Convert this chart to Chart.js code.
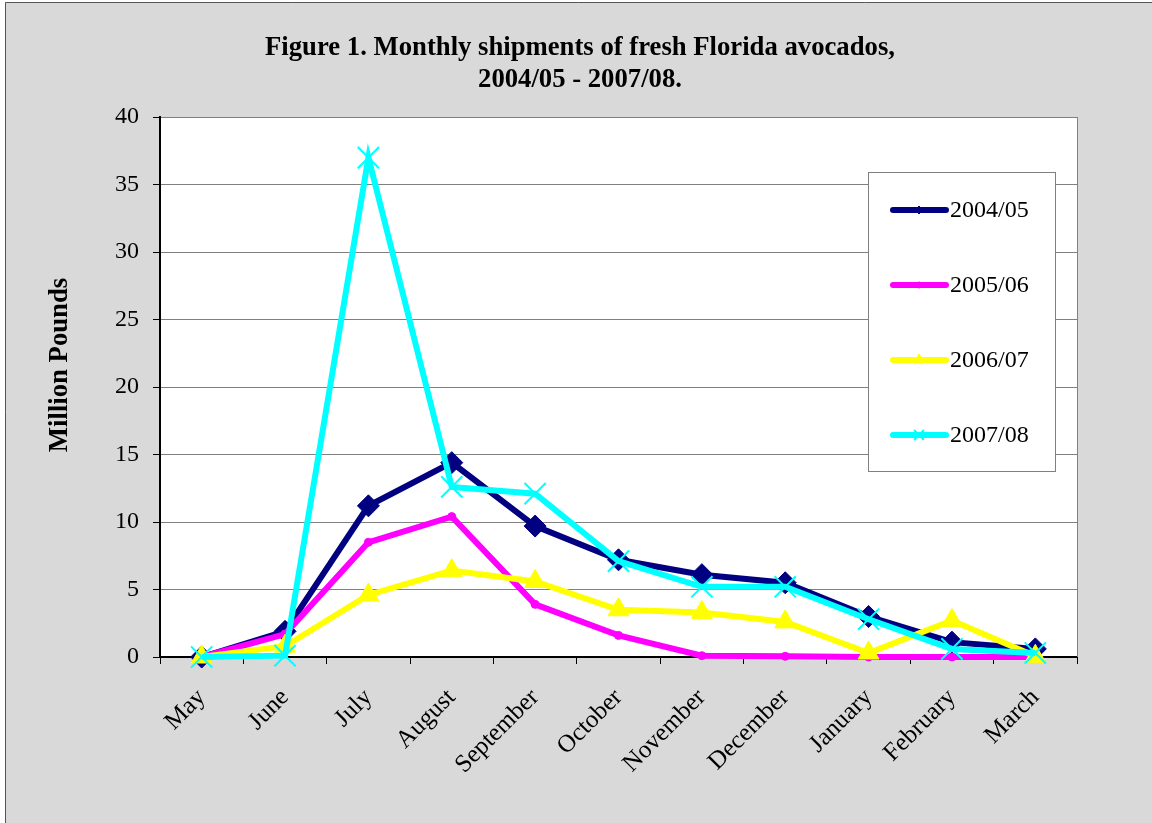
<!DOCTYPE html>
<html>
<head>
<meta charset="utf-8">
<title>Monthly shipments of fresh Florida avocados</title>
<script src="https://cdn.jsdelivr.net/npm/chart.js@4/dist/chart.umd.min.js"></script>
<style>
  html, body { margin: 0; padding: 0; background: #fff; }
  canvas { display: block; }
</style>
</head>
<body>
<canvas id="the-graph" width="1152" height="823"></canvas>
<script>
// shipping season runs May through March
var months = ['May', 'June', 'July', 'August', 'September', 'October',
              'November', 'December', 'January', 'February', 'March'];

// million pounds shipped per month
var season0405 = [0, 1.9, 11.2, 14.4, 9.7, 7.2, 6.1, 5.5, 3.0, 1.1, 0.6];
var season0506 = [0, 1.7, 8.5, 10.4, 3.9, 1.6, 0.1, 0.05, 0, 0, 0];
var season0607 = [0, 0.8, 4.6, 6.4, 5.6, 3.5, 3.3, 2.6, 0.3, 2.7, 0.05];
var season0708 = [0, 0.1, 37.0, 12.6, 12.1, 7.1, 5.2, 5.2, 2.8, 0.6, 0.3];

var seasonLabels = ['2004/05', '2005/06', '2006/07', '2007/08'];
var yMin = 0, yMax = 40, yStep = 5;

var SERIF = '"Liberation Serif", "Times New Roman", serif';

function series(label, data, color, style, radius, legendRadius, order) {
  return {
    label: label,
    data: data,
    borderColor: color,
    backgroundColor: color,
    borderWidth: 6,
    tension: 0,
    pointStyle: style,
    pointRadius: radius,
    pointBackgroundColor: color,
    pointBorderColor: color,
    pointBorderWidth: style === 'crossRot' ? 2 : 1,
    legendRadius: legendRadius,
    clip: false,
    order: order
  };
}

// frame, plot background, axis title and the boxed legend
var decor = {
  id: 'decor',
  beforeDraw: function (chart) {
    var ctx = chart.ctx, a = chart.chartArea;
    ctx.save();
    ctx.fillStyle = '#fff';
    ctx.fillRect(0, 0, chart.width, chart.height);
    ctx.fillStyle = '#d9d9d9';
    ctx.fillRect(5, 2, chart.width, chart.height);
    ctx.strokeStyle = '#555';
    ctx.lineWidth = 1;
    ctx.beginPath();
    ctx.moveTo(5.5, chart.height);
    ctx.lineTo(5.5, 2.5);
    ctx.lineTo(chart.width, 2.5);
    ctx.stroke();
    ctx.fillStyle = '#fff';
    ctx.fillRect(a.left, a.top, a.right - a.left, a.bottom - a.top);
    ctx.restore();
  },
  afterDraw: function (chart) {
    var ctx = chart.ctx, a = chart.chartArea;
    ctx.save();

    ctx.strokeStyle = '#808080';
    ctx.lineWidth = 1;
    ctx.beginPath();
    ctx.moveTo(Math.round(a.right) + 0.5, a.top);
    ctx.lineTo(Math.round(a.right) + 0.5, a.bottom);
    ctx.stroke();

    ctx.translate(60, 365);
    ctx.rotate(-Math.PI / 2);
    ctx.fillStyle = '#000';
    ctx.font = 'bold 26.7px ' + SERIF;
    ctx.textAlign = 'center';
    ctx.textBaseline = 'middle';
    ctx.fillText('Million Pounds', 0, 0);
    ctx.setTransform(1, 0, 0, 1, 0, 0);

    var bx = 868, by = 172, bw = 187, bh = 299;
    ctx.fillStyle = '#fff';
    ctx.fillRect(bx, by, bw, bh);
    ctx.strokeStyle = '#808080';
    ctx.strokeRect(bx + 0.5, by + 0.5, bw, bh);

    chart.data.datasets.forEach(function (ds, i) {
      var y = 210 + i * 75;
      ctx.strokeStyle = ds.borderColor;
      ctx.lineWidth = 6;
      ctx.lineCap = 'round';
      ctx.beginPath();
      ctx.moveTo(893, y);
      ctx.lineTo(946, y);
      ctx.stroke();
      ctx.fillStyle = ds.pointBackgroundColor;
      ctx.strokeStyle = ds.pointBorderColor;
      ctx.lineWidth = ds.pointBorderWidth;
      ctx.lineCap = 'butt';
      Chart.helpers.drawPoint(ctx, {
        pointStyle: ds.pointStyle,
        radius: ds.legendRadius,
        borderWidth: ds.pointBorderWidth,
        rotation: 0
      }, 919, y);
      ctx.fillStyle = '#000';
      ctx.font = '24px ' + SERIF;
      ctx.textAlign = 'left';
      ctx.textBaseline = 'middle';
      ctx.fillText(ds.label, 950, y + 1);
    });
    ctx.restore();
  }
};

var chart = new Chart(document.getElementById('the-graph'), {
  type: 'line',
  data: {
    labels: months,
    datasets: [
      series(seasonLabels[0], season0405, '#000080', 'rectRot', 11, 4, 3),
      series(seasonLabels[1], season0506, '#ff00ff', 'circle', 4, 3, 2),
      series(seasonLabels[2], season0607, '#ffff00', 'triangle', 12, 6, 1),
      series(seasonLabels[3], season0708, '#00ffff', 'crossRot', 15, 7, 0)
    ]
  },
  options: {
    responsive: false,
    animation: false,
    layout: { padding: { left: 83, right: 75, top: 0, bottom: 0 } },
    plugins: {
      legend: { display: false },
      tooltip: { enabled: false },
      title: {
        display: true,
        text: ['Figure 1. Monthly shipments of fresh Florida avocados,', '2004/05 - 2007/08.'],
        color: '#000',
        font: { family: SERIF, size: 26.7, weight: 'bold', lineHeight: 1.2 },
        padding: { top: 32, bottom: 21 }
      }
    },
    scales: {
      x: {
        offset: true,
        grid: { offset: true, drawOnChartArea: false, tickLength: 7, color: '#000' },
        border: { color: '#000', width: 2 },
        ticks: {
          color: '#000',
          font: { family: SERIF, size: 25 },
          minRotation: 45,
          maxRotation: 45,
          autoSkip: false,
          padding: 19
        },
        afterFit: function (s) { s.height = 166; }
      },
      y: {
        min: yMin,
        max: yMax,
        ticks: { stepSize: yStep, color: '#000', font: { family: SERIF, size: 24 }, padding: 14 },
        grid: { color: '#808080', tickColor: '#000', tickLength: 7 },
        border: { color: '#000', width: 2 },
        afterFit: function (s) { s.width = 77; }
      }
    }
  },
  plugins: [decor]
});
</script>
</body>
</html>
